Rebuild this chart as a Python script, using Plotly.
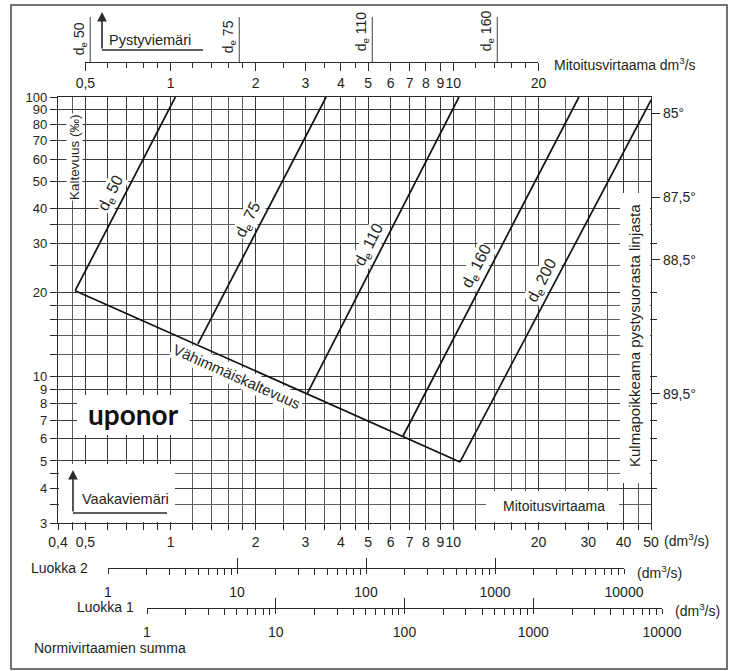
import math
import plotly.graph_objects as go

W, H = 732, 671

# ---------------- data ----------------
de_names = ["50", "75", "110", "160", "200"]
de_q_low = [0.46, 1.25, 3.04, 6.64, 10.56]      # dm3/s at minimum slope
de_s_low = [20.3, 13.1, 8.69, 6.14, 4.96]       # permille
de_q_high = [1.04, 3.55, 10.47, 27.8, 50.0]
de_s_high = [100, 100, 100, 100, 97.5]

min_q = [0.46, 10.56]
min_s = [20.3, 4.96]

vert_names = ["50", "75", "110", "160"]
vert_q = [0.52, 1.75, 5.17, 14.3]

x_major = [0.4, 0.5, 0.6, 0.7, 0.8, 0.9, 1, 2, 3, 4, 5, 6, 7, 8, 9, 10, 20, 30, 40, 50]
x_major_text = ["0,4", "0,5", "", "", "", "", "1", "2", "3", "4", "5", "6", "7", "8", "9",
                "10", "20", "30", "40", "50"]
x_minor = [0.45, 1.2, 1.4, 1.6, 1.8, 2.5, 3.5, 4.5, 12, 14, 16, 18, 25, 35, 45]

y_major = [3, 4, 5, 6, 7, 8, 9, 10, 20, 30, 40, 50, 60, 70, 80, 90, 100]
y_major_text = ["3", "4", "5", "6", "7", "8", "9", "10", "20", "30", "40", "50", "60",
                "70", "80", "90", "100"]
y_minor = [3.5, 4.5, 12, 14, 16, 18, 25, 35]

angle_slope = [87.5, 43.7, 26.2, 8.7]
angle_text = ["85°", "87,5°", "88,5°", "89,5°"]
angle_minor = [30, 20, 16, 10, 8, 7, 6, 5, 4]

top_major = [0.5, 1, 2, 3, 4, 5, 6, 7, 8, 9, 10, 20]
top_major_text = ["0,5", "1", "2", "3", "4", "5", "6", "7", "8", "9", "10", "20"]
top_minor = [0.6, 0.7, 0.8, 0.9, 1.2, 1.4, 1.6, 1.8, 2.5, 3.5, 4.5, 12, 14, 16, 18]

luokka_major = [1, 10, 100, 1000, 10000]
luokka_text = ["1", "10", "100", "1000", "10000"]
luokka_minor = [2, 3, 4, 5, 6, 7, 8, 9, 20, 30, 40, 50, 60, 70, 80, 90,
                200, 300, 400, 500, 600, 700, 800, 900,
                2000, 3000, 4000, 5000, 6000, 7000, 8000, 9000]

# ---------------- layout geometry (page pixels) ----------------
X0, X1 = 58, 651
Y0, Y1 = 97, 523
QMIN, QMAX = 0.4, 50
SMIN, SMAX = 3, 100
LQ0, LQ1 = math.log10(QMIN), math.log10(QMAX)
LS0, LS1 = math.log10(SMIN), math.log10(SMAX)

def fx(p):
    return p / W

def fy(p):
    return 1 - p / H

def qpx(q):
    return X0 + (math.log10(q) - LQ0) / (LQ1 - LQ0) * (X1 - X0)

def pq(p):   # pixel column -> flow value on the main axis
    return 10 ** (LQ0 + (p - X0) / (X1 - X0) * (LQ1 - LQ0))

def ps(p):   # pixel row -> slope value on the main axis
    return 10 ** (LS0 + (Y1 - p) / (Y1 - Y0) * (LS1 - LS0))

FONT = "Liberation Sans, Arial, sans-serif"
TXT = "#231f20"
DARK = "#2a2a2a"
GRID = "#3a3a3a"
GRID2 = "#5e5e5e"
LINE = "#111111"

fig = go.Figure()

# white cut-outs in the grid (drawn first, above grid, below lines)
for (a, b, c, d) in [(77, 395, 190, 435), (59, 464, 175, 522), (486, 491, 619, 522),
                     (620, 193, 650, 483)]:
    q0, q1, s0, s1 = pq(a), pq(c), ps(d), ps(b)
    fig.add_trace(go.Scatter(x=[q0, q1, q1, q0, q0], y=[s0, s0, s1, s1, s0],
                             mode="lines", fill="toself", fillcolor="white",
                             line=dict(width=0, color="white"),
                             xaxis="x", yaxis="y", hoverinfo="skip"))

# pipe lines
for i, n in enumerate(de_names):
    fig.add_trace(go.Scatter(x=[de_q_low[i], de_q_high[i]], y=[de_s_low[i], de_s_high[i]],
                             mode="lines", line=dict(color=LINE, width=1.7),
                             xaxis="x", yaxis="y", hoverinfo="skip"))
# minimum slope line
fig.add_trace(go.Scatter(x=min_q, y=min_s, mode="lines", line=dict(color=LINE, width=1.7),
                         xaxis="x", yaxis="y", hoverinfo="skip"))

# vertical pipe markers on the top scale
vx, vy = [], []
for q in vert_q:
    vx += [q, q, None]
    vy += [0, 0.9, None]
fig.add_trace(go.Scatter(x=vx, y=vy, mode="lines", line=dict(color="#555", width=1.1),
                         xaxis="x2", yaxis="y3", hoverinfo="skip"))

# dummy traces to materialise auxiliary axes
for xa, ya in [("x", "y2"), ("x3", "y4"), ("x5", "y4"), ("x4", "y5"), ("x6", "y5")]:
    fig.add_trace(go.Scatter(x=[10 if xa == "x" else 1], y=[10 if ya == "y2" else 0],
                             mode="markers", marker=dict(opacity=0, size=1),
                             xaxis=xa, yaxis=ya, hoverinfo="skip"))

tickfont = dict(family=FONT, size=14, color=TXT)
ytickfont = dict(family=FONT, size=13, color=TXT)
NOAM = dict(automargin=False)

layout = dict(
    width=W, height=H, margin=dict(l=0, r=0, t=0, b=0, pad=0, autoexpand=False),
    autosize=False,
    paper_bgcolor="white", plot_bgcolor="white", showlegend=False,
    font=dict(family=FONT, color=TXT, size=14),
    xaxis=dict(type="log", range=[LQ0, LQ1],
               domain=[fx(X0), fx(X1)], anchor="y",
               tickmode="array", tickvals=x_major, ticktext=x_major_text, tickangle=0,
               ticks="outside", ticklen=6, tickcolor=DARK, tickwidth=1,
               showgrid=True, gridcolor=GRID, gridwidth=1.2, zeroline=False,
               showline=True, linecolor=DARK, linewidth=1.3, mirror=True,
               tickfont=tickfont, **NOAM,
               minor=dict(tickmode="array", tickvals=x_minor, ticks="outside", ticklen=6,
                          tickcolor=DARK, showgrid=True, gridcolor=GRID2, gridwidth=1)),
    yaxis=dict(type="log", range=[LS0, LS1],
               domain=[fy(Y1), fy(Y0)], anchor="x",
               tickmode="array", tickvals=y_major, ticktext=y_major_text,
               ticks="outside", ticklen=7, tickcolor=DARK, tickwidth=1,
               showgrid=True, gridcolor=GRID, gridwidth=1.2, zeroline=False,
               showline=True, linecolor=DARK, linewidth=1.3,
               tickfont=ytickfont, **NOAM,
               minor=dict(tickmode="array", tickvals=y_minor, ticks="outside", ticklen=7,
                          tickcolor=DARK, showgrid=True, gridcolor=GRID2, gridwidth=1)),
    yaxis2=dict(type="log", range=[LS0, LS1],
                overlaying="y", side="right", anchor="x",
                tickmode="array", tickvals=angle_slope, ticktext=angle_text,
                ticks="outside", ticklen=8, tickcolor=DARK,
                showgrid=False, zeroline=False, showline=True, linecolor=DARK, linewidth=1.3,
                tickfont=tickfont, **NOAM,
                minor=dict(tickmode="array", tickvals=angle_minor, ticks="outside", ticklen=5,
                           tickcolor=DARK, showgrid=False)),
    # top flow scale
    xaxis2=dict(type="log", range=[math.log10(0.5), math.log10(20)],
                domain=[fx(qpx(0.5)), fx(qpx(20))], anchor="y3", side="bottom",
                tickmode="array", tickvals=top_major, ticktext=top_major_text, tickangle=0,
                ticks="outside", ticklen=8, tickcolor=DARK, showgrid=False, zeroline=False,
                showline=True, linecolor=DARK, linewidth=1.2, tickfont=tickfont, **NOAM,
                minor=dict(tickmode="array", tickvals=top_minor, ticks="outside", ticklen=5,
                           tickcolor=DARK, showgrid=False)),
    yaxis3=dict(domain=[fy(62), fy(12)], range=[0, 1], visible=False, anchor="x2", **NOAM),
    # Luokka 2
    xaxis3=dict(type="log", range=[0, 4], domain=[fx(108), fx(624)], anchor="y4", side="bottom",
                tickmode="array", tickvals=luokka_major, ticktext=luokka_text, tickangle=0,
                ticks="outside", ticklen=5, tickcolor=DARK, ticklabelstandoff=6,
                showgrid=False, zeroline=False, showline=True, linecolor=DARK, linewidth=1.2,
                tickfont=tickfont, **NOAM,
                minor=dict(tickmode="array", tickvals=luokka_minor, ticks="outside", ticklen=6,
                           tickcolor=DARK, showgrid=False)),
    xaxis5=dict(type="log", range=[0, 4], overlaying="x3", anchor="y4", side="bottom",
                tickmode="array", tickvals=luokka_major, ticks="inside", ticklen=10,
                tickcolor=DARK, showticklabels=False, showgrid=False, zeroline=False,
                showline=False, **NOAM),
    yaxis4=dict(domain=[fy(568), fy(568) + 0.01], range=[0, 1], visible=False, anchor="x3", **NOAM),
    # Luokka 1
    xaxis4=dict(type="log", range=[0, 4], domain=[fx(147), fx(662)], anchor="y5", side="bottom",
                tickmode="array", tickvals=luokka_major, ticktext=luokka_text, tickangle=0,
                ticks="outside", ticklen=5, tickcolor=DARK, ticklabelstandoff=6,
                showgrid=False, zeroline=False, showline=True, linecolor=DARK, linewidth=1.2,
                tickfont=tickfont, **NOAM,
                minor=dict(tickmode="array", tickvals=luokka_minor, ticks="outside", ticklen=6,
                           tickcolor=DARK, showgrid=False)),
    xaxis6=dict(type="log", range=[0, 4], overlaying="x4", anchor="y5", side="bottom",
                tickmode="array", tickvals=luokka_major, ticks="inside", ticklen=10,
                tickcolor=DARK, showticklabels=False, showgrid=False, zeroline=False,
                showline=False, **NOAM),
    yaxis5=dict(domain=[fy(608), fy(608) + 0.01], range=[0, 1], visible=False, anchor="x4", **NOAM),
)
fig.update_layout(**layout)

# ---------------- shapes ----------------
shapes = []
# outer frame
shapes.append(dict(type="rect", xref="paper", yref="paper", x0=fx(11), x1=fx(727),
                   y0=fy(669), y1=fy(5), line=dict(color="#444", width=1.5)))
# L-shaped arrows' horizontal legs
shapes.append(dict(type="line", xref="paper", yref="paper", x0=fx(102), x1=fx(203),
                   y0=fy(50), y1=fy(50), line=dict(color=DARK, width=1.6)))
shapes.append(dict(type="line", xref="paper", yref="paper", x0=fx(73), x1=fx(167),
                   y0=fy(513), y1=fy(513), line=dict(color=DARK, width=1.6)))
fig.update_layout(shapes=shapes)

# ---------------- annotations ----------------
ann = []

def A(text, x, y, size=14, angle=0, xanchor="center", bg=None, font=None):
    d = dict(text=text, x=fx(x), y=fy(y), xref="paper", yref="paper", showarrow=False,
             textangle=angle, xanchor=xanchor, yanchor="middle",
             font=font or dict(family=FONT, size=size, color=TXT))
    if bg:
        d["bgcolor"] = bg
        d["borderpad"] = 0
    ann.append(d)

# pipe labels along the sloped lines
for i, n in enumerate(de_names):
    lq = (math.log10(de_q_low[i]) + math.log10(de_q_high[i])) / 2
    ls = (math.log10(de_s_low[i]) + math.log10(de_s_high[i])) / 2
    ann.append(dict(text=f"d<sub>e</sub> {n}", x=lq, y=ls, xref="x", yref="y",
                    xanchor="center", yanchor="middle",
                    showarrow=False, textangle=-63, xshift=-14,
                    font=dict(family=FONT, size=16, color=TXT),
                    bgcolor="white", borderpad=0))

# minimum slope label
lq = math.log10(min_q[0]) + 0.42 * (math.log10(min_q[1]) - math.log10(min_q[0]))
ls = math.log10(min_s[0]) + 0.42 * (math.log10(min_s[1]) - math.log10(min_s[0]))
ann.append(dict(text="Vähimmäiskaltevuus", x=lq, y=ls, xref="x", yref="y", showarrow=False,
                xanchor="center", yanchor="middle",
                textangle=24, yshift=-14, font=dict(family=FONT, size=15, color=TXT),
                bgcolor="white", borderpad=1))

# vertical pipe labels (top)
vert_label_ypx = [39, 37, 31, 31]
for i, n in enumerate(vert_names):
    ann.append(dict(text=f"d<sub>e</sub> {n}", x=math.log10(vert_q[i]), y=fy(vert_label_ypx[i]),
                    xref="x2", yref="paper", showarrow=False, textangle=-90, xshift=-10,
                    xanchor="center", yanchor="middle",
                    font=dict(family=FONT, size=14, color=TXT)))

A("Mitoitusvirtaama dm<sup>3</sup>/s", 552, 64, size=14, xanchor="left")
A("Pystyviemäri", 107, 40, size=14.5, xanchor="left")
A("Vaakaviemäri", 80, 499, size=14.5, xanchor="left")
A("Kaltevuus (‰)", 74, 157, size=13.5, angle=-90, bg="white")
A("Kulmapoikkeama pystysuorasta linjasta", 634, 336, size=15, angle=-90)
A("<b>uponor</b>", 133, 414,
  font=dict(family="Lato, Roboto, DejaVu Sans, sans-serif", size=28, color="#111", weight=900))
A("Mitoitusvirtaama", 554, 506, size=14)
A("(dm<sup>3</sup>/s)", 662, 540, size=14, xanchor="left")
A("Luokka 2", 60, 568, size=14)
A("(dm<sup>3</sup>/s)", 635, 572, size=14, xanchor="left")
A("Luokka 1", 105, 607, size=14)
A("(dm<sup>3</sup>/s)", 673, 610, size=14, xanchor="left")
A("Normivirtaamien summa", 32, 648, size=14, xanchor="left")

# arrow heads
for (x, ytip, ytail) in [(102, 12, 50), (73, 470, 513)]:
    ann.append(dict(text="", x=fx(x), y=fy(ytip), xref="paper", yref="paper",
                    ax=0, ay=ytail - ytip, axref="pixel", ayref="pixel",
                    showarrow=True, arrowhead=2, arrowsize=1.2, arrowwidth=1.6,
                    arrowcolor=DARK, standoff=0))

fig.update_layout(annotations=ann)

fig.write_html("out.html", config={"responsive": False, "displayModeBar": False},
               post_script="document.body.style.margin='0';document.body.style.overflow='hidden';")
